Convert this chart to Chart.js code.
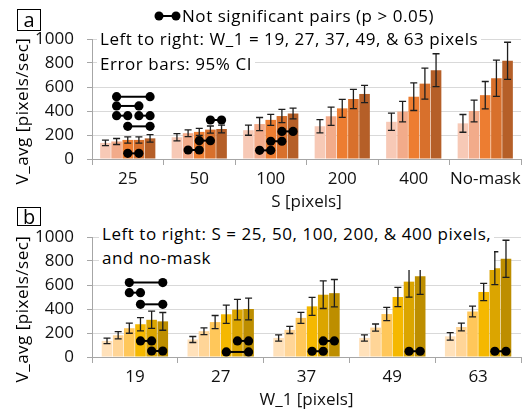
<!DOCTYPE html>
<html>
<head>
<meta charset="utf-8">
<script src="https://cdn.jsdelivr.net/npm/chart.js@4/dist/chart.umd.min.js"></script>
<style>
body { margin: 0; width: 529px; height: 414px; position: relative; overflow: hidden; background: #fff; font-family: "Open Sans", sans-serif; color: #000; }
.box { position: absolute; }
.panel { position: absolute; left: 17px; width: 22px; border: 1px solid #000; font-size: 20px; text-align: center; background: #fff; }
.note { position: absolute; background: #fff; font-size: 17px; line-height: 20px; letter-spacing: 0.55px; white-space: nowrap; padding: 0 3px; }
.ytitle { position: absolute; width: 200px; font-size: 17px; line-height: 20px; letter-spacing: 0.5px; text-align: center; white-space: nowrap; transform: rotate(-90deg); }
</style>
</head>
<body>
<div class="box" id="wa" style="left:0;top:0;width:529px;height:214px"><canvas id="chartA"></canvas></div>
<div class="box" id="wb" style="left:0;top:205px;width:529px;height:209px"><canvas id="chartB"></canvas></div>

<div class="panel" style="top:9px;height:20px;line-height:20px">a</div>
<div class="panel" style="top:207px;height:17px;line-height:17px">b</div>

<div class="note" style="left:154px;top:6px;padding:0">
  <svg width="28" height="14" style="vertical-align:-1px"><line x1="5" y1="7" x2="22" y2="7" stroke="#000" stroke-width="2"/><circle cx="5" cy="7" r="4.5"/><circle cx="22" cy="7" r="4.5"/></svg>Not significant pairs (p &gt; 0.05)
</div>
<div class="note" style="left:97px;top:29px">Left to right: W_1 = 19, 27, 37, 49, &amp; 63 pixels</div>
<div class="note" style="left:97px;top:54px">Error bars: 95% CI</div>
<div class="note" style="left:99px;top:222px;line-height:24px">Left to right: S = 25, 50, 100, 200, &amp; 400 pixels,<br>and no-mask</div>

<div class="ytitle" style="left:-78px;top:101px">V_avg [pixels/sec]</div>
<div class="ytitle" style="left:-78px;top:299px">V_avg [pixels/sec]</div>

<script>
// categories
var sLabels = ['25', '50', '100', '200', '400', 'No-mask'];
var wLabels = ['19', '27', '37', '49', '63'];
var yTicks = [0, 200, 400, 600, 800, 1000];

// mean V_avg per W_1, over S = 25, 50, 100, 200, 400, No-mask
var vW19 = [134, 181, 240, 273, 310, 297];
var vW27 = [146, 215, 291, 356, 395, 400];
var vW37 = [159, 226, 326, 422, 519, 532];
var vW49 = [159, 245, 358, 500, 628, 673];
var vW63 = [172, 250, 379, 542, 740, 818];

// 95% CI half widths, same layout
var ciW19 = [23, 30, 42, 55, 72, 74];
var ciW27 = [25, 28, 55, 76, 85, 90];
var ciW37 = [26, 30, 46, 75, 115, 114];
var ciW49 = [26, 30, 55, 80, 129, 151];
var ciW63 = [31, 32, 45, 72, 137, 155];

// not significant pairs: [category, bar, bar, height]
var pairsA = [
  [0, 1, 4, 519], [0, 1, 3, 442], [0, 1, 2, 361], [0, 3, 4, 361], [0, 2, 4, 272], [0, 2, 3, 47],
  [1, 3, 4, 325], [1, 2, 3, 153], [1, 1, 2, 75],
  [2, 3, 4, 230], [2, 2, 3, 148], [2, 1, 2, 72]
];
var pairsB = [
  [0, 2, 5, 620], [0, 2, 3, 536], [0, 3, 5, 439], [0, 3, 4, 134], [0, 4, 5, 50],
  [1, 4, 5, 134], [1, 3, 5, 42],
  [2, 4, 5, 134], [2, 3, 4, 48],
  [3, 4, 5, 48],
  [4, 4, 5, 48]
];

var colorsA = ['#F7C9B6', '#F2AB8A', '#ED7D31', '#D8702C', '#B55F28'];
var colorsB = ['#FFE1BA', '#FFD597', '#FFC75A', '#F5B800', '#DBA500', '#BD8E00'];

var vRows = [vW19, vW27, vW37, vW49, vW63];
var ciRows = [ciW19, ciW27, ciW37, ciW49, ciW63];

Chart.defaults.font.family = '"Open Sans", sans-serif';
Chart.defaults.font.size = 17;
Chart.defaults.color = '#111';

var extras = {
  id: 'extras',
  afterDatasetsDraw: function(chart, args, opts) {
    var ctx = chart.ctx;
    var ys = chart.scales.y;
    ctx.save();
    // error bars
    ctx.strokeStyle = '#1e1e1e';
    ctx.lineWidth = 1.3;
    chart.data.datasets.forEach(function(ds, i) {
      chart.getDatasetMeta(i).data.forEach(function(bar, j) {
        var top = ys.getPixelForValue(ds.data[j] + ds.ci[j]);
        var bot = ys.getPixelForValue(ds.data[j] - ds.ci[j]);
        ctx.beginPath();
        ctx.moveTo(bar.x, top); ctx.lineTo(bar.x, bot);
        ctx.moveTo(bar.x - 3.5, top); ctx.lineTo(bar.x + 3.5, top);
        ctx.moveTo(bar.x - 3.5, bot); ctx.lineTo(bar.x + 3.5, bot);
        ctx.stroke();
      });
    });
    // not significant pairs
    ctx.strokeStyle = '#000';
    ctx.fillStyle = '#000';
    ctx.lineWidth = 2;
    opts.pairs.forEach(function(p) {
      var x1 = chart.getDatasetMeta(p[1]).data[p[0]].x;
      var x2 = chart.getDatasetMeta(p[2]).data[p[0]].x;
      var yy = ys.getPixelForValue(p[3]);
      ctx.beginPath(); ctx.moveTo(x1, yy); ctx.lineTo(x2, yy); ctx.stroke();
      [x1, x2].forEach(function(x) {
        ctx.beginPath(); ctx.arc(x, yy, 4.6, 0, Math.PI * 2); ctx.fill();
      });
    });
    ctx.restore();
  }
};

function makeChart(id, labels, datasets, pairs, padTop, xHeight, titleText, titlePad) {
  return new Chart(document.getElementById(id), {
    type: 'bar',
    data: { labels: labels, datasets: datasets },
    plugins: [extras],
    options: {
      responsive: true,
      maintainAspectRatio: false,
      devicePixelRatio: 1,
      animation: false,
      layout: { padding: { top: padTop, right: 8, left: 0, bottom: 0 } },
      plugins: {
        legend: { display: false },
        tooltip: { enabled: false },
        extras: { pairs: pairs }
      },
      datasets: { bar: { barPercentage: 0.95, categoryPercentage: 0.78 } },
      scales: {
        x: {
          grid: { offset: true, drawOnChartArea: false, drawTicks: true, tickLength: 6, color: '#a6a6a6' },
          border: { color: '#a6a6a6' },
          ticks: { padding: 4, maxRotation: 0, autoSkip: false },
          title: { display: true, text: titleText, padding: { top: 0, bottom: titlePad } },
          afterFit: function(s) { s.height = xHeight; }
        },
        y: {
          min: 0, max: 1000,
          afterBuildTicks: function(s) { s.ticks = yTicks.map(function(v) { return { value: v }; }); },
          grid: { color: '#d9d9d9', tickLength: 5, tickColor: '#a6a6a6' },
          border: { color: '#a6a6a6' },
          ticks: { padding: 13, callback: function(v) { return String(v); } },
          afterFit: function(s) { s.width = 92; }
        }
      }
    }
  });
}

var dsA = vRows.map(function(row, w) {
  return { label: 'W_1 = ' + wLabels[w], data: row, ci: ciRows[w], backgroundColor: colorsA[w] };
});
var dsB = sLabels.map(function(s, k) {
  return {
    label: 'S = ' + s,
    data: vRows.map(function(r) { return r[k]; }),
    ci: ciRows.map(function(r) { return r[k]; }),
    backgroundColor: colorsB[k]
  };
});

makeChart('chartA', sLabels, dsA, pairsA, 39, 55, 'S [pixels]', 2);
makeChart('chartB', wLabels, dsB, pairsB, 32, 57, 'W_1 [pixels]', 4);
</script>
</body>
</html>
